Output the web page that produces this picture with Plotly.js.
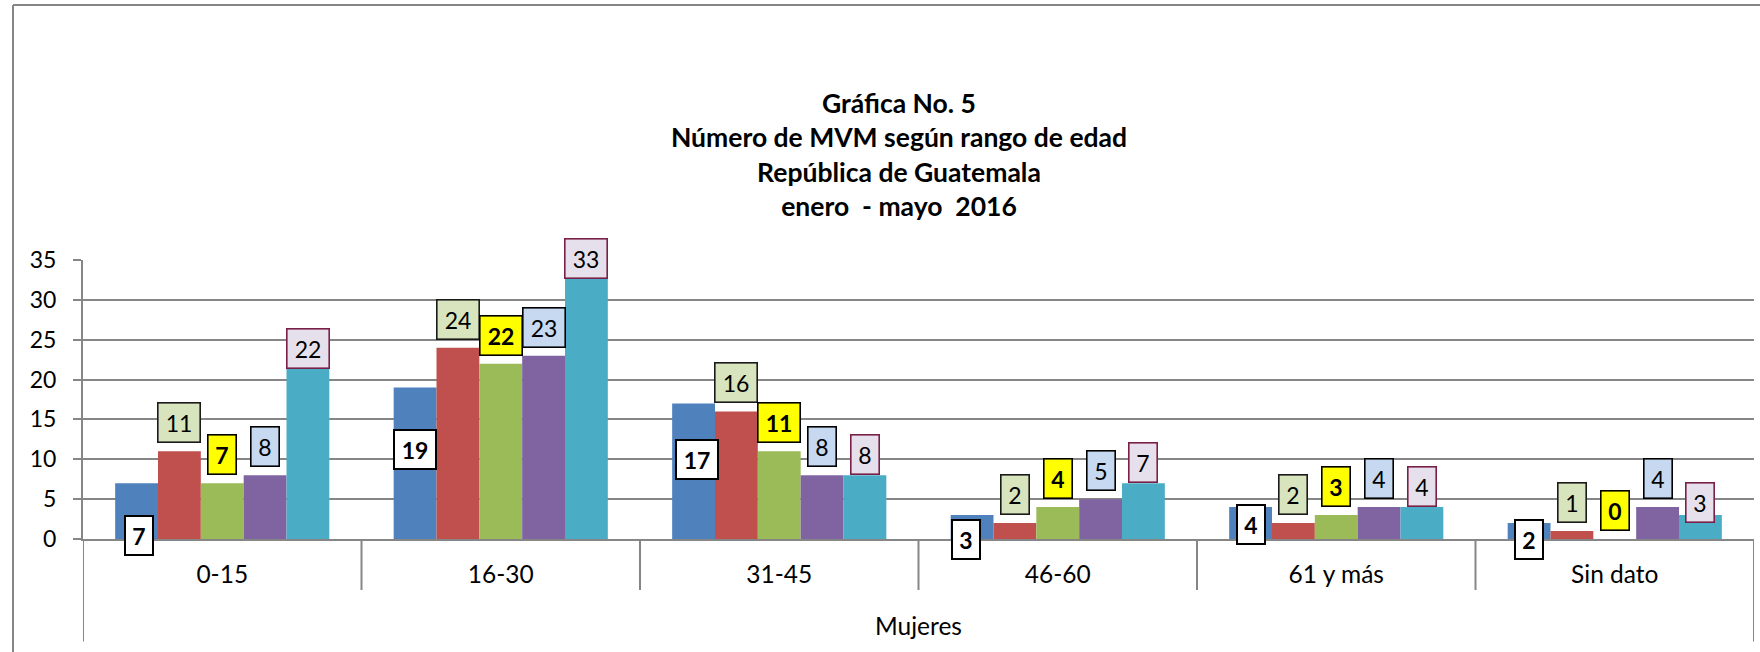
<!DOCTYPE html>
<html>
<head>
<meta charset="utf-8">
<script src="https://cdn.plot.ly/plotly-3.0.1.min.js"></script>
<style>html,body{margin:0;padding:0;background:#fff;}#chart{width:1760px;height:652px;}</style>
</head>
<body>
<div id="chart"></div>
<script>
// ---- Data ----
const categories = ['0-15', '16-30', '31-45', '46-60', '61 y más', 'Sin dato'];
const enero   = [7, 19, 17, 3, 4, 2];
const febrero = [11, 24, 16, 2, 2, 1];
const marzo   = [7, 22, 11, 4, 3, 0];
const abril   = [8, 23, 8, 5, 4, 4];
const mayo    = [22, 33, 8, 7, 4, 3];
const groupLabel = 'Mujeres';
const titleText = 'Gráfica No. 5<br>Número de MVM según rango de edad<br>República de Guatemala<br>enero  - mayo  2016';

// ---- Styles ----
const FONT = 'Lato, "Open Sans", sans-serif';
const seriesList = [
  {name: 'enero',   values: enero,   color: '#4F81BD', bg: '#FFFFFF', border: '#000000', bold: true},
  {name: 'febrero', values: febrero, color: '#C0504D', bg: '#D7E4BD', border: '#1a1a1a', bold: false},
  {name: 'marzo',   values: marzo,   color: '#9BBB59', bg: '#FFFF00', border: '#000000', bold: true},
  {name: 'abril',   values: abril,   color: '#8064A2', bg: '#C6D9F1', border: '#000000', bold: false},
  {name: 'mayo',    values: mayo,    color: '#4BACC6', bg: '#E6E0EC', border: '#7A1F47', bold: false}
];

// label placement (px) : series 1 is placed manually relative to the baseline,
// series 5 has small per-point offsets relative to bar top, others sit 8px above bar.
const s1CenterAboveBase = [4, 90, 80, 0, 15, 0];
const s1XShift = [2, 0, 3, -6, 0, 0];
const s5Shift = [-5, -3, 0, 0, 0, -8];

const W = 1760, H = 652;
const M = {l: 83, r: 6, t: 260, b: 113};
const plotW = W - M.l - M.r, plotH = H - M.t - M.b;
const bargap = 0.231;
const barW = plotW / categories.length * (1 - bargap) / seriesList.length;

const traces = seriesList.map(s => ({
  type: 'bar', name: s.name, x: categories, y: s.values,
  marker: {color: s.color, line: {width: 0}},
  hoverinfo: 'x+y+name'
}));

const annotations = [];
seriesList.forEach((s, k) => {
  s.values.forEach((v, i) => {
    const txt = String(v);
    const bw = k === 0 ? 2 : 1.6;
    const boxW = txt.length > 1 ? 44 : 30;
    const boxH = 41;
    const a = {
      x: categories[i], xref: 'x', yref: 'y',
      text: s.bold ? '<b>' + txt + '</b>' : txt,
      showarrow: false,
      font: {family: FONT, size: 23, color: '#000'},
      bgcolor: s.bg, bordercolor: s.border, borderwidth: bw, borderpad: 0,
      width: boxW - 2 * bw, height: boxH - 2 * bw,
      xanchor: 'center',
      xshift: (k - 2) * barW
    };
    if (k === 0) {
      a.y = 0; a.yanchor = 'middle'; a.yshift = s1CenterAboveBase[i];
      a.xshift += s1XShift[i];
    } else if (k === 4) {
      a.y = v; a.yanchor = 'bottom'; a.yshift = s5Shift[i];
    } else {
      a.y = v; a.yanchor = 'bottom'; a.yshift = 8;
    }
    annotations.push(a);
  });
});

annotations.push({
  text: groupLabel, xref: 'paper', yref: 'paper', x: 0.5, y: -(625 - 539) / plotH,
  xanchor: 'center', yanchor: 'middle', showarrow: false,
  font: {family: FONT, size: 24.5, color: '#000'}
});

const GRID = '#868686';
const shapes = [];
// separators between categories
for (let i = 1; i < categories.length; i++) {
  shapes.push({type: 'line', xref: 'x', yref: 'paper', x0: i - 0.5, x1: i - 0.5,
    y0: 0, y1: -51 / plotH, line: {color: GRID, width: 2}});
}
// outer separators (longer, bounding the group label)
[-0.5, categories.length - 0.5].forEach(x => {
  shapes.push({type: 'line', xref: 'x', yref: 'paper', x0: x, x1: x,
    y0: 0, y1: -102.5 / plotH, line: {color: GRID, width: 2}});
});
// chart outer border (top and left visible)
const bx = (13 - M.l) / plotW, by = 1 + (M.t - 5) / plotH;
shapes.push({type: 'line', xref: 'paper', yref: 'paper', x0: bx, x1: 1.02, y0: by, y1: by,
  line: {color: GRID, width: 2}});
shapes.push({type: 'line', xref: 'paper', yref: 'paper', x0: bx, x1: bx, y0: by, y1: -0.5,
  line: {color: GRID, width: 2}});

const layout = {
  width: W, height: H, margin: M,
  paper_bgcolor: '#fff', plot_bgcolor: '#fff',
  barmode: 'group', bargap: bargap, bargroupgap: 0,
  showlegend: false,
  font: {family: FONT, size: 23, color: '#000'},
  title: {
    text: titleText, xref: 'container', yref: 'container',
    x: 899 / W, xanchor: 'center', y: 1 - 113 / H, yanchor: 'top',
    font: {family: FONT, size: 26.5, color: '#000', weight: 'bold'}
  },
  xaxis: {
    type: 'category', range: [-0.5, categories.length - 0.5],
    showgrid: false, zeroline: false, ticks: '',
    showline: true, linecolor: GRID, linewidth: 2,
    tickfont: {family: FONT, size: 24.5, color: '#000'},
    ticklabelstandoff: 13, fixedrange: true
  },
  yaxis: {
    range: [0, 35], dtick: 5, tick0: 0,
    showgrid: true, gridcolor: GRID, gridwidth: 2,
    zeroline: false, showline: true, linecolor: GRID, linewidth: 2,
    ticks: 'outside', ticklen: 8, tickwidth: 2, tickcolor: GRID,
    tickfont: {family: FONT, size: 23, color: '#000'},
    ticklabelstandoff: 12, fixedrange: true
  },
  annotations: annotations,
  shapes: shapes
};

Plotly.newPlot('chart', traces, layout, {displayModeBar: false, staticPlot: true});
</script>
</body>
</html>
